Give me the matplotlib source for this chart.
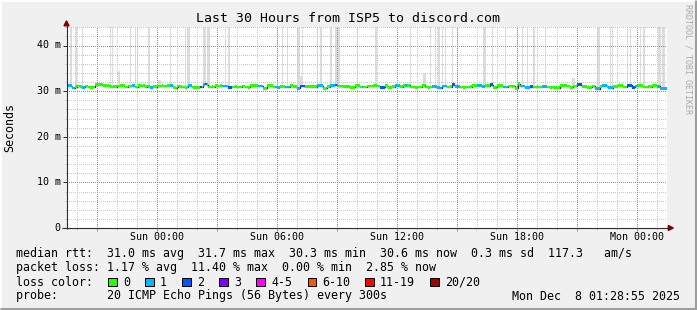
import numpy as np
import matplotlib
matplotlib.use('Agg')
import matplotlib.pyplot as plt
import matplotlib.transforms as mtrans
from matplotlib.patches import Rectangle, Polygon
from matplotlib.lines import Line2D

# ------------------------------------------------------------------ data
title = "Last 30 Hours from ISP5 to discord.com"
start_hour = -4.5          # hours relative to Sun 00:00
step_hours = 5 / 60        # 300 s samples

median_ms = [
    31.2, 31.3, 31.2, 30.8, 30.7, 31.0, 31.1, 31.1, 31.0, 30.8, 30.8, 31.1, 31.1, 30.9, 30.8, 30.8, 30.9, 31.4, 31.5, 31.5,
    31.5, 31.4, 31.2, 31.2, 31.1, 31.2, 31.0, 30.9, 31.0, 31.0, 31.1, 31.1, 31.3, 31.3, 31.2, 30.9, 30.9, 31.1, 31.1, 31.25,
    31.2, 30.9, 30.9, 31.2, 31.2, 31.1, 31.2, 31.0, 31.1, 31.0, 30.85, 30.85, 31.0, 31.0, 31.1, 31.1, 31.1, 31.2, 31.1, 31.1,
    31.3, 31.3, 31.3, 31.2, 30.8, 30.7, 31.0, 31.1, 31.0, 30.9, 30.9, 30.8, 30.9, 31.25, 31.2, 30.9, 30.85, 30.8, 30.9, 30.85,
    30.9, 30.9, 31.5, 31.55, 31.4, 30.9, 30.9, 31.0, 30.9, 31.2, 31.2, 31.1, 31.2, 31.1, 31.1, 31.15, 31.1, 30.85, 30.8, 30.9,
    30.9, 30.95, 30.9, 30.9, 30.9, 31.1, 31.1, 30.9, 30.9, 30.85, 31.2, 31.2, 31.25, 31.2, 31.2, 31.1, 31.1, 31.1, 30.6, 30.65,
    31.2, 31.2, 31.25, 31.2, 30.9, 30.9, 30.9, 30.85, 31.0, 31.05, 31.0, 30.9, 30.9, 30.9, 31.3, 31.3, 31.0, 31.0, 30.6, 30.6,
    31.1, 31.15, 31.1, 31.0, 31.0, 31.05, 31.0, 30.95, 31.0, 31.0, 31.25, 31.3, 31.25, 31.2, 30.6, 30.6, 31.05, 31.0, 31.3, 31.3,
    31.3, 31.35, 31.3, 31.1, 31.1, 31.1, 31.0, 31.0, 30.95, 31.0, 30.85, 30.85, 30.8, 31.2, 31.2, 31.2, 30.9, 30.9, 30.9, 30.9,
    31.1, 31.1, 31.15, 31.1, 31.25, 31.25, 31.1, 31.1, 30.85, 30.85, 30.85, 31.2, 31.2, 30.85, 30.85, 31.0, 31.0, 31.2, 31.2, 31.2,
    31.0, 31.0, 31.25, 31.25, 31.2, 31.25, 30.9, 30.9, 30.9, 30.85, 30.9, 30.9, 30.9, 31.3, 31.3, 30.9, 30.9, 30.85, 30.9, 31.05,
    31.05, 31.0, 30.75, 30.75, 30.7, 31.1, 31.1, 31.1, 30.9, 30.9, 30.95, 31.4, 31.4, 31.05, 31.05, 31.0, 30.9, 30.9, 30.85, 30.9,
    30.9, 30.9, 30.95, 31.2, 31.2, 31.25, 31.3, 31.3, 31.3, 31.05, 31.05, 31.2, 31.2, 31.2, 31.4, 31.4, 30.85, 30.85, 31.2, 31.2,
    31.2, 31.2, 30.9, 30.9, 30.9, 31.1, 31.1, 31.05, 31.1, 30.6, 30.6, 31.6, 31.1, 31.1, 31.1, 30.85, 30.85, 30.85, 31.0, 31.0,
    30.9, 30.9, 30.95, 30.9, 30.9, 31.05, 31.05, 31.05, 30.9, 30.9, 30.85, 30.9, 30.75, 30.75, 30.7, 30.75, 31.2, 31.2, 31.25, 31.2,
    31.1, 31.1, 30.85, 30.85, 31.1, 31.1, 31.5, 31.5, 31.45, 31.05, 31.05, 31.0, 30.85, 30.85, 30.85, 31.1, 31.1, 30.55, 30.5, 30.55,
    31.05, 31.2, 31.2, 31.2, 31.05, 30.75, 30.75, 30.75, 31.05, 31.05, 31.05, 31.2, 31.2, 31.2, 30.9, 30.9, 31.25, 31.25, 31.25, 30.85,
    30.85, 31.1, 31.1, 31.2, 31.2, 31.2, 30.9, 30.9, 30.9, 31.0, 31.0, 31.2, 31.2, 31.2, 31.05, 31.05, 30.6, 30.6, 30.6, 30.6,
]

loss_count = [
    1, 1, 1, 1, 1, 0, 0, 0, 0, 1, 1, 0, 0, 0, 0, 0, 0, 0, 0, 0,
    0, 0, 0, 0, 0, 0, 0, 0, 0, 0, 0, 0, 0, 0, 0, 0, 0, 0, 0, 1,
    1, 0, 0, 0, 0, 0, 0, 0, 0, 0, 1, 1, 0, 0, 0, 0, 0, 0, 0, 0,
    0, 0, 1, 1, 0, 0, 0, 0, 0, 0, 0, 0, 0, 1, 1, 0, 0, 0, 0, 0,
    3, 0, 1, 2, 0, 0, 0, 0, 0, 0, 0, 0, 0, 1, 1, 1, 1, 2, 2, 0,
    0, 0, 0, 0, 0, 0, 0, 0, 0, 0, 0, 0, 0, 0, 0, 1, 1, 1, 0, 0,
    0, 0, 0, 0, 0, 1, 1, 1, 0, 0, 0, 1, 1, 1, 0, 0, 0, 0, 1, 1,
    2, 2, 2, 0, 0, 0, 0, 0, 0, 0, 1, 1, 1, 1, 0, 0, 0, 0, 1, 1,
    1, 2, 1, 0, 0, 0, 0, 0, 0, 0, 0, 0, 0, 0, 0, 0, 0, 1, 0, 0,
    0, 0, 0, 0, 0, 0, 0, 0, 2, 2, 2, 0, 0, 0, 0, 0, 0, 1, 1, 1,
    0, 0, 0, 1, 0, 0, 0, 0, 0, 0, 0, 0, 0, 0, 0, 0, 0, 0, 0, 1,
    1, 1, 1, 1, 1, 1, 1, 1, 0, 0, 0, 2, 2, 1, 1, 1, 0, 0, 0, 0,
    0, 0, 0, 0, 0, 0, 1, 1, 1, 1, 1, 0, 0, 0, 2, 2, 0, 0, 0, 0,
    0, 0, 1, 1, 1, 0, 0, 0, 0, 0, 0, 0, 1, 1, 1, 1, 1, 1, 2, 2,
    0, 0, 0, 0, 0, 1, 1, 1, 0, 0, 0, 0, 0, 0, 0, 0, 0, 0, 0, 0,
    0, 0, 0, 0, 0, 0, 2, 2, 2, 0, 0, 0, 0, 0, 0, 0, 0, 1, 1, 1,
    0, 1, 1, 1, 0, 1, 1, 1, 0, 0, 0, 0, 0, 0, 0, 0, 2, 2, 2, 2,
    2, 1, 1, 0, 0, 0, 0, 0, 0, 0, 0, 0, 0, 0, 1, 1, 1, 1, 1, 1,
]

# samples whose ping spread (smoke) reaches above the chart top
smoke_full_idx = [0, 2, 5, 9, 26, 27, 38, 41, 42, 49, 62, 71, 72, 73, 82, 83, 84, 85, 95, 97,
                  126, 129, 132, 138, 139, 141, 150, 152, 158, 161, 162, 163, 174, 185, 206,
                  218, 221, 223, 225, 227, 231, 234, 250, 251, 255, 263, 270, 273, 276, 280,
                  287, 318, 319, 326, 327, 336, 338, 344, 346, 355, 356, 357, 358]
# samples with a smaller smoke spread
smoke_short_idx = [31, 55, 56, 140, 214, 215, 303, 304]
smoke_short_top = [34.5, 32.4, 32.4, 33.4, 34.0, 34.0, 32.8, 32.8]

xtick_hours = [0, 6, 12, 18, 24]
xtick_labels = ['Sun 00:00', 'Sun 06:00', 'Sun 12:00', 'Sun 18:00', 'Mon 00:00']
ytick_values = [0, 10, 20, 30, 40]
ytick_labels = ['0', '10 m', '20 m', '30 m', '40 m']

loss_labels = ['0', '1', '2', '3', '4-5', '6-10', '11-19', '20/20']
loss_colors = ['#26ff00', '#00b8ff', '#0059ff', '#7e00ff', '#ff00ff', '#ff5500', '#ff0000', '#a10000']

rtt_line = 'median rtt:  31.0 ms avg  31.7 ms max  30.3 ms min  30.6 ms now  0.3 ms sd  117.3   am/s'
loss_line = 'packet loss: 1.17 % avg  11.40 % max  0.00 % min  2.85 % now'
probe_line = 'probe:       20 ICMP Echo Pings (56 Bytes) every 300s'
timestamp = 'Mon Dec  8 01:28:55 2025'

# ------------------------------------------------------------------ style / layout
plt.rcParams['font.family'] = ['DejaVu Sans Mono']
W, H = 697, 310
AX_L, AX_R, AX_B, AX_T = 66.5, 666.5, 228.0, 27.25
Y_MAX = 44.0
BACK = '#f0f0f0'
AXIS_C = '#2c2c2c'
ARROW_C = '#7f0000'
GRID_C = '#c8c8c8'
MGRID_C = '#ff6464'
SMOKE_C = '#dcdcdc'

fig = plt.figure(figsize=(W / 100, H / 100), dpi=100)
fig.patch.set_facecolor(BACK)


def fx(x):
    return x / W


def fy(y):
    return 1 - y / H


ax = fig.add_axes([fx(AX_L), fy(AX_B), (AX_R - AX_L) / W, (AX_B - AX_T) / H])
n = len(median_ms)
x_end = start_hour + n * step_hours
ax.set_xlim(start_hour, x_end)
ax.set_ylim(0, Y_MAX)
ax.set_facecolor('white')
for s in ax.spines.values():
    s.set_visible(False)
ax.set_xticks([])
ax.set_yticks([])

px = 0.72
PX_PER_H = (AX_R - AX_L) / (x_end - start_hour)
PX_PER_MS = (AX_B - AX_T) / Y_MAX

# dotted grid: 1 px on / 1 px off, snapped to pixel centres, dash phase half a pixel
dot = (0.5, (1, 1))
for h in range(int(np.ceil(start_hour)), int(x_end) + 1):
    c = MGRID_C if h % 3 == 0 else GRID_C
    ln = ax.axvline(h, color=c, lw=px, ls=dot, zorder=2 if h % 3 else 2.1)
    ln.set_snap(True)
for v in range(2, int(Y_MAX) + 1, 2):
    c = MGRID_C if v % 10 == 0 else GRID_C
    ln = ax.axhline(v, color=c, lw=px, ls=dot, zorder=2 if v % 10 else 2.1)
    ln.set_snap(True)

t = start_hour + np.arange(n + 1) * step_hours
med = np.array(median_ms)

# smoke
fi = np.array(smoke_full_idx)
ax.bar(t[fi], Y_MAX + 5 - med[fi], bottom=med[fi], width=step_hours, align='edge',
       color=SMOKE_C, linewidth=0, zorder=1)
si = np.array(smoke_short_idx)
ax.bar(t[si], np.array(smoke_short_top) - med[si], bottom=med[si], width=step_hours,
       align='edge', color=SMOKE_C, linewidth=0, zorder=1)


def loss_class(c):
    if c <= 3:
        return c
    if c <= 5:
        return 4
    if c <= 10:
        return 5
    if c <= 19:
        return 6
    return 7


cls = [loss_class(c) for c in loss_count]

# dark median line
ax.step(t, np.append(med, med[-1]), where='post', color='#202020', lw=0.9, zorder=3)
# loss coloured band
bw = 0.3
i = 0
while i < n:
    j = i
    while j + 1 < n and cls[j + 1] == cls[i]:
        j += 1
    xs = t[i:j + 2]
    ys = np.append(med[i:j + 1], med[j])
    ax.fill_between(xs, ys - bw, ys + bw, step='post', color=loss_colors[cls[i]],
                    linewidth=0, zorder=4)
    i = j + 1


def fline(x0, y0, x1, y1, color, lw=px):
    ln = Line2D([fx(x0), fx(x1)], [fy(y0), fy(y1)], color=color, lw=lw,
                transform=fig.transFigure, solid_capstyle='butt')
    ln.set_snap(True)
    fig.add_artist(ln)


# ticks on y axis
for v in range(0, int(Y_MAX) + 1, 2):
    yy = AX_B - v * PX_PER_MS
    if v % 10 == 0:
        fline(62.5, yy, AX_L, yy, AXIS_C)
    else:
        fline(64.5, yy, AX_L, yy, GRID_C)
# ticks on x axis
for h in range(int(np.ceil(start_hour)), int(x_end) + 1):
    xx = AX_L + (h - start_hour) * PX_PER_H
    if h % 3 == 0:
        fline(xx, AX_B, xx, AX_B + 3, MGRID_C)
    else:
        fline(xx, AX_B, xx, AX_B + 2, GRID_C)

fline(AX_L, AX_B + 0.5, AX_L, 24, AXIS_C, lw=0.8)
fline(62, AX_B, 669, AX_B, AXIS_C, lw=0.8)
fig.add_artist(Polygon([[fx(64.0), fy(25.8)], [fx(69.0), fy(25.8)], [fx(66.5), fy(20.8)]],
                       closed=True, color=ARROW_C, transform=fig.transFigure))
fig.add_artist(Polygon([[fx(668.3), fy(225.5)], [fx(668.3), fy(230.5)], [fx(673.3), fy(228)]],
                       closed=True, color=ARROW_C, transform=fig.transFigure))

# border (3d shade)
fline(0, 0.5, W, 0.5, '#ffffff', lw=1.4)
fline(0.5, 0, 0.5, H, '#ffffff', lw=1.4)
fline(0, H - 1.5, W, H - 1.5, '#9e9e9e', lw=2.2)
fline(W - 1.5, 0, W - 1.5, H, '#9e9e9e', lw=2.2)

# ------------------------------------------------------------------ text
fig.text(fx(348.5), fy(19), title, ha='center', va='center', fontsize=9.5)
fig.text(fx(10), fy(128), 'Seconds', rotation=90, ha='center', va='center', fontsize=8.4)
fig.text(fx(688), fy(4), 'RRDTOOL / TOBI OETIKER', rotation=270, ha='center', va='top',
         fontsize=6.0, color='#aaaaaa')

tx = mtrans.blended_transform_factory(ax.transData, fig.transFigure)
for h, lab in zip(xtick_hours, xtick_labels):
    ax.text(h, fy(237.5), lab, transform=tx, ha='center', va='center', fontsize=7.2)
ty = mtrans.blended_transform_factory(fig.transFigure, ax.transData)
for v, lab in zip(ytick_values, ytick_labels):
    ax.text(fx(60.5), v, lab, transform=ty, ha='right', va='center', fontsize=7.2)

LFS = 8.4
row_y = [254, 268, 282, 296]
fig.text(fx(16), fy(row_y[0]), rtt_line, ha='left', va='center', fontsize=LFS)
fig.text(fx(16), fy(row_y[1]), loss_line, ha='left', va='center', fontsize=LFS)
fig.text(fx(16), fy(row_y[2]), 'loss color:', ha='left', va='center', fontsize=LFS)
for x, lab, c in zip([108, 145, 182, 219, 256, 307.5, 365, 430], loss_labels, loss_colors):
    fig.add_artist(Rectangle((fx(x), fy(row_y[2] + 4.3)), 8.5 / W, 8.5 / H, facecolor=c,
                             edgecolor='black', lw=0.72, transform=fig.transFigure))
    fig.text(fx(x + 15), fy(row_y[2]), lab, ha='left', va='center', fontsize=LFS)
fig.text(fx(16), fy(row_y[3]), probe_line, ha='left', va='center', fontsize=LFS)
fig.text(fx(680), fy(row_y[3]), timestamp, ha='right', va='center', fontsize=LFS)

fig.savefig('out.png', dpi=100, facecolor=BACK)
